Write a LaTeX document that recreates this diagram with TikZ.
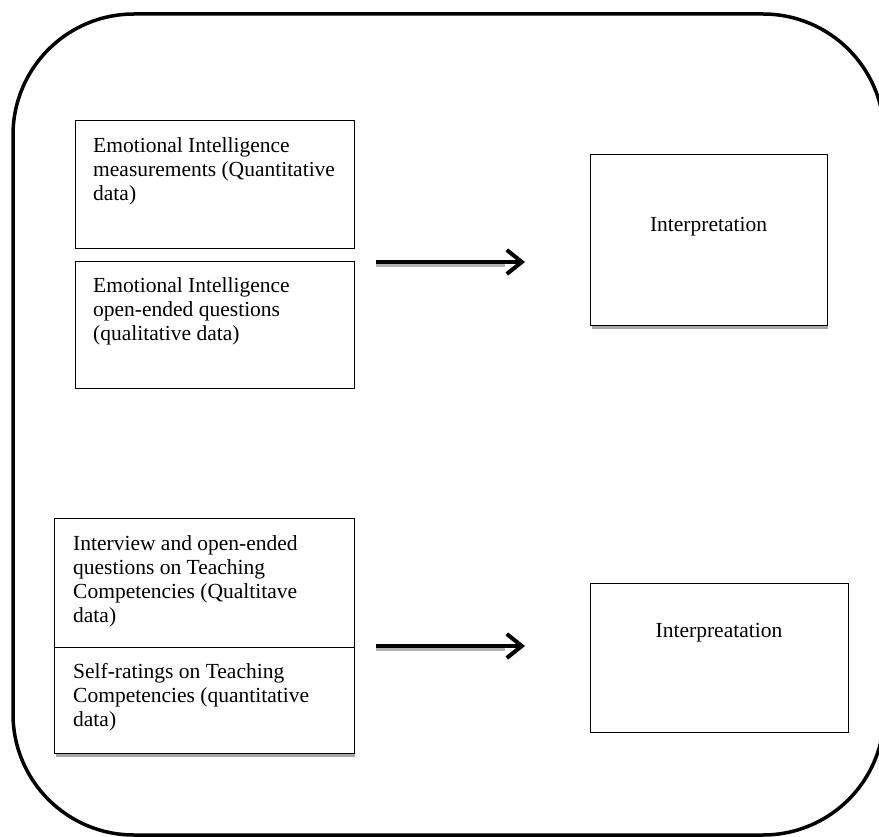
\documentclass[tikz,border=0pt]{standalone}
\usepackage{fontspec}
\setmainfont{Liberation Serif}
\usetikzlibrary{arrows.meta}
\begin{document}
\begin{tikzpicture}[x=1pt,y=-1pt,
  box/.style={draw=black,line width=1.3pt,rectangle,inner sep=0pt,anchor=north west},
  txt/.style={inner sep=0pt,align=left,anchor=north west,font=\fontsize{21.5}{24}\selectfont},
  ctxt/.style={inner sep=0pt,anchor=base,font=\fontsize{21.5}{24}\selectfont},
  shadow/.style={draw=black!35,line width=2.5pt},
  bigarrow/.style={line width=4pt,-{Straight Barb[length=15pt,width=24pt,line width=4pt]}},
  arrshadow/.style={draw=black!30,line width=4pt}]
\useasboundingbox (0,0) rectangle (879,837);
% outer frame
\draw[line width=3.5pt,rounded corners=121pt] (13,14) rectangle (884,835);
% top group
\node[box,minimum width=279pt,minimum height=128pt] (eim) at (75,120) {};
\node[txt] (eimt) at (93,137) {Emotional Intelligence\\measurements (Quantitative\\data)};
\node[box,minimum width=279pt,minimum height=127pt] (eio) at (75,261) {};
\node[txt] (eiot) at (93,277) {Emotional Intelligence\\open-ended questions\\(qualitative data)};
\coordinate (a1s) at (376,262);
\coordinate (a1e) at (525,262);
\draw[arrshadow] ([yshift=-3pt]a1s) -- ([xshift=-20pt,yshift=-3pt]a1e);
\draw[bigarrow] (a1s) -- (a1e);
\draw[shadow] (592,327.5) -- (828,327.5);
\node[box,fill=white,minimum width=237pt,minimum height=171pt] (int1) at (590,154) {};
\node[ctxt] (int1t) at (708.5,232) {Interpretation};
% bottom group
\draw[shadow] (56,755.5) -- (355,755.5);
\node[box,fill=white,minimum width=300pt,minimum height=129pt] (tcq) at (54,518) {};
\node[box,fill=white,minimum width=300pt,minimum height=106pt] (tcs) at (54,647) {};
\node[txt] (tcqt) at (73,535) {Interview and open-ended\\questions on Teaching\\Competencies (Qualtitave\\data)};
\node[txt] (tcst) at (73,663) {Self-ratings on Teaching\\Competencies (quantitative\\data)};
\coordinate (a2s) at (376,646);
\coordinate (a2e) at (525,646);
\draw[arrshadow] ([yshift=-3pt]a2s) -- ([xshift=-20pt,yshift=-3pt]a2e);
\draw[bigarrow] (a2s) -- (a2e);
\node[box,minimum width=258pt,minimum height=149pt] (int2) at (590,583) {};
\node[ctxt] (int2t) at (719,637) {Interpreatation};
\end{tikzpicture}
\end{document}
